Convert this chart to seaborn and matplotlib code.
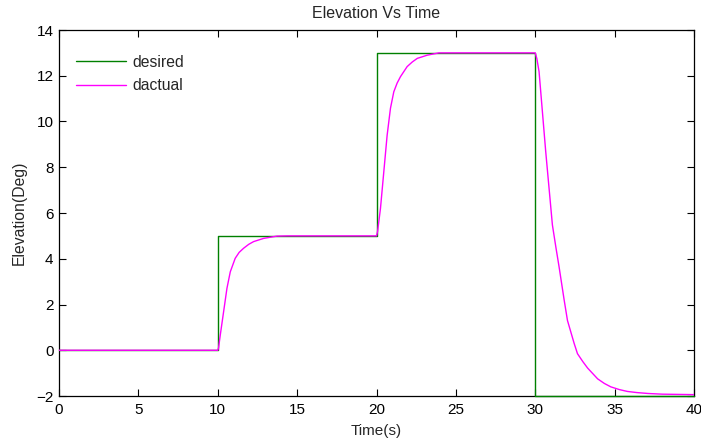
import numpy as np
import pandas as pd
import matplotlib
matplotlib.use("Agg")
import matplotlib.pyplot as plt
import seaborn as sns

# Reference (desired) elevation: level held from each switch time
desired_t = [0, 10, 20, 30, 40]
desired_v = [0, 5, 13, -2, -2]

# Measured (actual) elevation response
actual_t = [0, 10.0, 10.05, 10.16, 10.37, 10.58, 10.79, 11.10, 11.35, 11.63, 11.95, 12.26,
            12.89, 13.73, 14.4,
            20.0, 20.07, 20.25, 20.46, 20.67, 20.88, 21.09, 21.3, 21.51, 21.93, 22.25,
            22.57, 23.2, 23.93,
            30.0, 30.1, 30.24, 30.45, 30.66, 30.87, 31.08, 31.3, 31.5, 31.82, 32.03,
            32.24, 32.45, 32.66, 33.0, 33.3, 33.93, 34.35, 34.76, 35.3, 35.8, 36.4,
            37.1, 38.0, 40.0]
actual_v = [0, 0, 0.1, 0.67, 1.69, 2.71, 3.43, 4.02, 4.28, 4.46, 4.63, 4.75,
            4.89, 4.99, 5.0,
            5.0, 5.2, 6.2, 7.8, 9.4, 10.58, 11.3, 11.68, 11.96, 12.4, 12.6,
            12.76, 12.9, 13.0,
            13.0, 12.75, 12.18, 10.43, 8.68, 7.08, 5.48, 4.5, 3.65, 2.2, 1.3,
            0.8, 0.3, -0.15, -0.5, -0.78, -1.25, -1.45, -1.6, -1.72, -1.8, -1.85,
            -1.89, -1.92, -1.94]

x_ticks = list(range(0, 41, 5))
y_ticks = list(range(-2, 15, 2))

sns.set_style("ticks")
plt.rcParams["font.family"] = ["Liberation Sans", "DejaVu Sans"]
plt.rcParams["xtick.direction"] = "in"
plt.rcParams["ytick.direction"] = "in"

desired = pd.DataFrame({"t": desired_t, "v": desired_v})
actual = pd.DataFrame({"t": actual_t, "v": actual_v})

fig = plt.figure(figsize=(7.01, 4.40), dpi=100)
ax = fig.add_axes([59 / 701, 1 - 396 / 440, (694 - 59) / 701, (396 - 30) / 440])

sns.lineplot(data=desired, x="t", y="v", ax=ax, color="#008000", lw=1.0,
             drawstyle="steps-post", estimator=None, errorbar=None,
             label="desired", clip_on=False, zorder=3)
sns.lineplot(data=actual, x="t", y="v", ax=ax, color="#ff00ff", lw=1.0,
             estimator=None, sort=False, errorbar=None, label="dactual", zorder=4)

ax.set_xlim(0, 40)
ax.set_ylim(-2, 14)
ax.set_xticks(x_ticks)
ax.set_yticks(y_ticks)
ax.tick_params(which="both", top=True, right=True, length=5, width=0.8,
               labelsize=11, colors="black")
ax.tick_params(axis="x", pad=5)
ax.tick_params(axis="y", pad=4)
for s in ax.spines.values():
    s.set_visible(True)
    s.set_linewidth(0.9)
    s.set_color("black")

ax.set_title("Elevation Vs Time", fontsize=11.5, pad=9)
ax.set_xlabel("Time(s)", fontsize=11, labelpad=5)
ax.set_ylabel("Elevation(Deg)", fontsize=11.3, labelpad=7)

ax.legend(loc="upper left", frameon=False, fontsize=11.3, handlelength=3.2,
          handletextpad=0.4, borderaxespad=0, labelspacing=0.55,
          bbox_to_anchor=(0.0173, 0.95))

fig.savefig("out.png", dpi=100)
